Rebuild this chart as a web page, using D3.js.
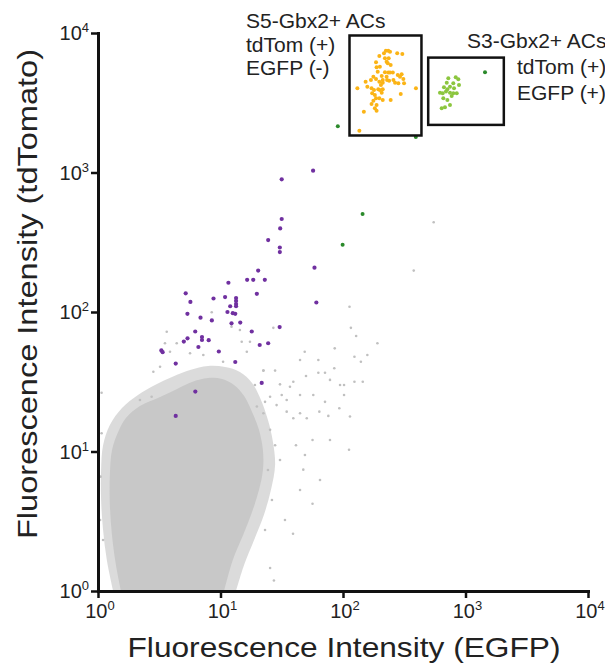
<!DOCTYPE html>
<html>
<head>
<meta charset="utf-8">
<script src="https://cdn.jsdelivr.net/npm/d3@7"></script>
<style>
  body { margin: 0; background: #fff; }
  text { font-family: Arial, "Liberation Sans", sans-serif; fill: #222; }
</style>
</head>
<body>
<svg id="chart" width="605" height="669"></svg>
<script>
const decades = [1, 10, 100, 1000, 10000];
const xTitle = 'Fluorescence Intensity (EGFP)';
const yTitle = 'Fluorescence Intensity (tdTomato)';

// dense negative population, outline as [EGFP, tdTomato]
const cloudCore = [
  [1.54, 1], [1.40, 1.54], [1.30, 2.52], [1.25, 4.13], [1.25, 6.78], [1.30, 10.2], [1.46, 13.8],
  [1.69, 17.4], [2.20, 21.2], [3.21, 24.6], [4.42, 28.1], [5.85, 31.5], [7.91, 33.6], [10.3, 33.1],
  [12.9, 30.0], [15.6, 25.0], [18.1, 19.2], [20.6, 14.3], [22.2, 10.2], [22.2, 7.37], [20.6, 5.30],
  [18.1, 3.69], [15.3, 2.52], [12.6, 1.67], [10.7, 1]
];
// speckled edge around it
const cloudFringe = [
  [1.33, 1], [1.18, 1.67], [1.10, 2.74], [1.06, 4.49], [1.06, 7.37], [1.10, 11.1], [1.25, 15.5],
  [1.57, 20.5], [2.12, 25.4], [2.92, 30.0], [4.02, 34.2], [5.64, 38.4], [7.91, 41.0], [10.9, 40.3],
  [14.4, 37.2], [18.1, 31.0], [21.4, 23.4], [24.4, 16.8], [26.8, 11.7], [27.9, 8.0], [25.8, 5.30],
  [22.6, 3.51], [18.8, 2.32], [15.6, 1.54], [13.4, 1]
];
// sparse ungated events
const grayEvents = [
  [550, 440], [378, 198], [113, 109], [116, 77], [128, 67.3], [191, 59.7], [85.6, 54.9], [158, 49.2],
  [124, 47.8], [140, 44.0], [48.7, 51.9], [44.6, 45.3], [62.9, 45.3], [84.9, 39.5], [62.9, 36.7],
  [71.3, 36.7], [78.3, 32.6], [49.9, 34.8], [124, 31.6], [145, 31.6], [94.6, 30.0], [102, 30.0],
  [39.3, 31.6], [30.6, 30.3], [22.4, 38.0], [27.9, 38.0], [27.0, 77], [44.6, 25.4], [57.2, 25.4],
  [71.3, 22.7], [102, 25.4], [93.3, 20.4], [64.1, 19.3], [44.6, 18.8], [34.7, 23.4], [75.9, 18.0],
  [114, 17.8], [39.3, 17.3], [50.6, 17.3], [112, 10.3], [56.4, 12.1], [47.4, 7.41], [56.4, 4.22],
  [27.3, 1.19], [25.4, 1.46], [39.1, 2.57], [41.3, 11.1], [44.6, 5.30], [33.6, 3.23], [30.6, 8.69],
  [1.07, 26.4], [1.07, 13.5], [1.05, 6.6], [1.04, 3.23], [1.10, 2.32], [8.48, 99.5], [3.64, 72.2],
  [4.39, 59.7], [12.3, 78.5], [14.9, 61.2], [17.4, 61.2], [16.4, 51.9], [3.52, 59.7], [5.64, 50.6],
  [7.24, 49.2], [10.5, 44.0], [3.87, 51.9], [3.21, 40.5], [2.83, 37.3], [2.74, 24.7], [2.20, 23.4],
  [22.4, 38], [19.1, 30.0], [19.8, 21.0], [23.1, 22.7], [28.7, 21.5], [25.4, 24.7], [34.7, 19.3],
  [36.9, 29.1], [31.6, 25.4], [22.4, 18.8], [25.4, 14.3], [27.9, 11.1], [24.4, 7.37], [26.3, 4.49],
  [23.1, 2.74], [48.9, 9.44], [64.9, 6.25], [78.3, 12.1], [14.4, 74.3]
];
// tdTomato+ EGFP- outside the gate
const tdTomOnly = [
  [57, 1030], [31.6, 894], [31.6, 464], [30.7, 397], [24.5, 328], [30.5, 290], [30.5, 269], [58.5, 208],
  [20.3, 198], [16.5, 170], [18.5, 170], [23, 170], [11.6, 162], [19.8, 135], [60.6, 117], [5.2, 136],
  [5.68, 118], [8.77, 125], [10.9, 128], [13.4, 126], [13.4, 120], [13.4, 114], [13.4, 110], [12, 110],
  [5.37, 97], [6.87, 91], [8.5, 87], [12.6, 98], [11.4, 100], [13.2, 97], [12.3, 83], [14.5, 84],
  [18, 72.5], [30.4, 78], [5.02, 61.4], [5.38, 64.8], [6.22, 72.5], [7.06, 66.2], [7.06, 63], [8.01, 62.8],
  [9.69, 52.1], [13.2, 43.8], [20.9, 58], [24.5, 59.7], [3.29, 53], [3.37, 51.5], [4.31, 42.7], [6.6, 56.1],
  [21.7, 31], [6.23, 26.9], [4.31, 18]
];
const doublePos = [[90.7, 2143], [144.5, 505], [99.3, 304], [1443, 5236], [393, 1799]];
const s5Events = [
  [224, 7470], [234, 7470], [242, 7350], [216, 7150], [277, 7150], [198, 6840], [305, 7070], [220, 6590],
  [236, 6590], [227, 6230], [232, 6070], [186, 6160], [245, 5900], [188, 5680], [200, 5740], [192, 5280],
  [220, 5230], [234, 5200], [242, 5200], [255, 5200], [301, 5060], [280, 5000], [177, 4860], [207, 4920],
  [227, 4860], [211, 4600], [229, 4600], [238, 4550], [258, 4600], [266, 4400], [283, 4360], [311, 4680],
  [292, 4860], [315, 4360], [153, 4480], [169, 4600], [186, 4680], [198, 4480], [211, 4400], [204, 4240],
  [158, 4120], [171, 4010], [179, 3900], [194, 3950], [200, 3900], [211, 3950], [207, 3730], [173, 3700],
  [182, 3590], [186, 3400], [198, 3400], [177, 3270], [171, 3100], [188, 3050], [182, 2890], [188, 2770],
  [148, 2730], [211, 3310], [245, 3310], [296, 3650], [394, 4010], [131, 4010], [136, 1990]
];
const s3Events = [
  [832, 4810], [874, 4660], [724, 4730], [703, 4400], [795, 4360], [885, 4240], [747, 4120], [667, 4080],
  [711, 3950], [693, 3800], [619, 3730], [651, 3700], [747, 3730], [795, 3700], [848, 3700], [771, 3535],
  [659, 3400], [711, 3310], [747, 3050], [680, 2930], [639, 2890], [806, 4010]
];
const gateS5 = { x: [113, 437], y: [1842, 9596], label: ['S5-Gbx2+ ACs', 'tdTom (+)', 'EGFP (-)'] };
const gateS3 = { x: [496, 2055], y: [2194, 6663], label: ['S3-Gbx2+ ACs', 'tdTom (+)', 'EGFP (+)'] };

const svg = d3.select('#chart');
const x = d3.scaleLog().domain([1, 1e4]).range([98, 588]);
const y = d3.scaleLog().domain([1, 1e4]).range([591, 33]);

svg.append('clipPath').attr('id', 'plot-clip')
  .append('rect')
  .attr('x', x(1)).attr('y', y(1e4))
  .attr('width', x(1e4) - x(1)).attr('height', y(1) - y(1e4));

const plot = svg.append('g').attr('clip-path', 'url(#plot-clip)');
const outline = d3.line().x(d => x(d[0])).y(d => y(d[1])).curve(d3.curveCatmullRom.alpha(0.5));

plot.append('path')
  .attr('d', outline(cloudFringe) + 'Z')
  .attr('fill', '#c8c8c8')
  .attr('opacity', 0.65);
plot.append('path')
  .attr('d', outline(cloudCore) + 'Z')
  .attr('fill', '#c8c8c8');

const drawEvents = (data, color, r) => {
  plot.append('g').selectAll('circle')
    .data(data)
    .enter().append('circle')
    .attr('cx', d => x(d[0]))
    .attr('cy', d => y(d[1]))
    .attr('r', r)
    .attr('fill', color);
};
drawEvents(grayEvents, '#c0c0c0', 1.3);
drawEvents(tdTomOnly, '#7030a0', 2.1);
drawEvents(doublePos, '#2b8a2b', 2.0);
drawEvents(s5Events, '#fbb416', 2.0);
drawEvents(s3Events, '#8cc63f', 2.0);

[gateS5, gateS3].forEach(g => {
  svg.append('rect')
    .attr('x', x(g.x[0]))
    .attr('y', y(g.y[1]))
    .attr('width', x(g.x[1]) - x(g.x[0]))
    .attr('height', y(g.y[0]) - y(g.y[1]))
    .attr('fill', 'none')
    .attr('stroke', '#111')
    .attr('stroke-width', 2.5);
});

const labelS5 = svg.append('text').attr('font-size', 21);
gateS5.label.forEach((t, i) => {
  labelS5.append('tspan').attr('x', 246).attr('y', 28 + i * 23.5).text(t);
});
const labelS3 = svg.append('text').attr('font-size', 21);
gateS3.label.forEach((t, i) => {
  labelS3.append('tspan').attr('x', i === 0 ? 467 : 517).attr('y', 48 + i * 26).text(t);
});

// axes
const xAxis = svg.append('g')
  .attr('transform', `translate(0,${y(1)})`)
  .call(d3.axisBottom(x).tickValues(decades).tickSize(7).tickSizeOuter(0).tickFormat(''));
const yAxis = svg.append('g')
  .attr('transform', `translate(${x(1)},0)`)
  .call(d3.axisLeft(y).tickValues(decades).tickSize(7).tickSizeOuter(0).tickFormat(''));
[xAxis, yAxis].forEach(a => {
  a.select('.domain').attr('stroke', '#111').attr('stroke-width', 3).attr('stroke-linecap', 'square');
  a.selectAll('.tick line').attr('stroke', '#111').attr('stroke-width', 2.5);
});

const power = v => Math.round(Math.log10(v));
decades.forEach(v => {
  let t = svg.append('text')
    .attr('x', x(v) + 2)
    .attr('y', y(1) + 27)
    .attr('text-anchor', 'middle')
    .attr('font-size', 20);
  t.append('tspan').text('10');
  t.append('tspan').attr('font-size', 13).attr('dy', -8).text(power(v));

  let u = svg.append('text')
    .attr('x', x(1) - 9)
    .attr('y', y(v) + 7)
    .attr('text-anchor', 'end')
    .attr('font-size', 20);
  u.append('tspan').text('10');
  u.append('tspan').attr('font-size', 13).attr('dy', -8).text(power(v));
});

svg.append('text')
  .attr('x', 344)
  .attr('y', 657)
  .attr('text-anchor', 'middle')
  .attr('font-size', 28)
  .attr('textLength', 433)
  .attr('lengthAdjust', 'spacingAndGlyphs')
  .text(xTitle);
svg.append('text')
  .attr('transform', 'translate(37,294) rotate(-90)')
  .attr('text-anchor', 'middle')
  .attr('font-size', 28)
  .attr('textLength', 490)
  .attr('lengthAdjust', 'spacingAndGlyphs')
  .text(yTitle);
</script>
</body>
</html>
